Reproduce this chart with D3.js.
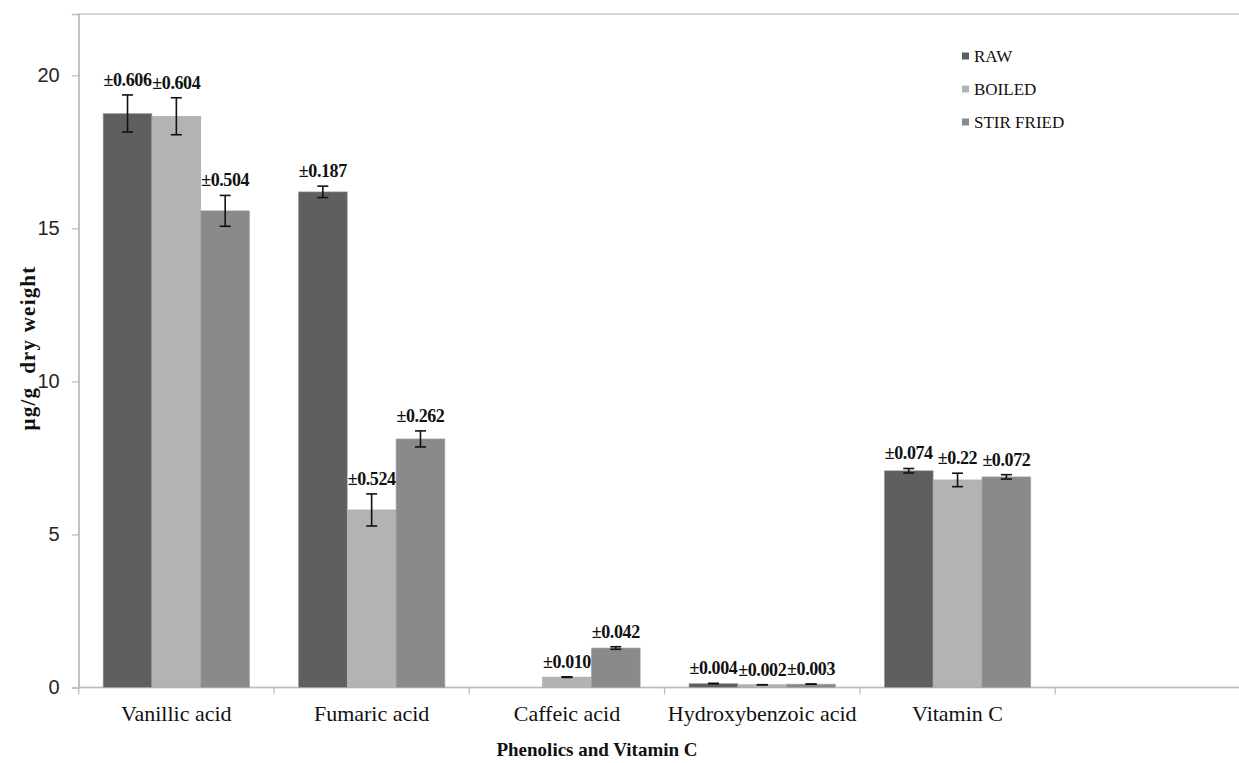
<!DOCTYPE html>
<html>
<head>
<meta charset="utf-8">
<script src="https://cdn.jsdelivr.net/npm/d3@7"></script>
<style>
  body { margin: 0; background: #ffffff; }
  svg { display: block; }
</style>
</head>
<body>
<svg id="chart" width="1239" height="763"></svg>
<script>
// Phenolic acids and vitamin C content (µg/g dry weight) by cooking method
const categories = ["Vanillic acid", "Fumaric acid", "Caffeic acid", "Hydroxybenzoic acid", "Vitamin C"];
const seriesNames = ["RAW", "BOILED", "STIR FRIED"];
const rawValues = [18.75, 16.19, 0, 0.13, 7.08];
const boiledValues = [18.66, 5.80, 0.34, 0.09, 6.78];
const stirFriedValues = [15.57, 8.12, 1.29, 0.11, 6.88];
// standard deviations, as printed above each bar
const rawSD = ["0.606", "0.187", null, "0.004", "0.074"];
const boiledSD = ["0.604", "0.524", "0.010", "0.002", "0.22"];
const stirFriedSD = ["0.504", "0.262", "0.042", "0.003", "0.072"];
const yTicks = [0, 5, 10, 15, 20];

const seriesValues = [rawValues, boiledValues, stirFriedValues];
const seriesSD = [rawSD, boiledSD, stirFriedSD];
const colors = ["#5f5f5f", "#b3b3b3", "#8a8a8a"];

const serif = "'Liberation Serif', 'Times New Roman', Times, serif";

const svg = d3.select("#chart");
const plotLeft = 78.7, plotTop = 14, plotBottom = 687.5;
const step = 195.3;
const plotRight = plotLeft + 6 * step;   // plot area runs one empty slot past the last group

const x = d3.scaleBand().domain(categories).range([plotLeft, plotLeft + categories.length * step]).padding(0);
const xs = d3.scaleBand().domain(seriesNames).range([step / 8, step * 7 / 8]).padding(0);
const y = d3.scaleLinear().domain([0, 22]).range([plotBottom, plotTop]);
const color = d3.scaleOrdinal().domain(seriesNames).range(colors);

const axisColor = "#bdbdbd";

// plot area border
svg.append("rect")
  .attr("x", plotLeft).attr("y", plotTop)
  .attr("width", plotRight - plotLeft).attr("height", plotBottom - plotTop)
  .attr("fill", "none").attr("stroke", axisColor).attr("stroke-width", 1.3);

// y axis
const yAxis = svg.append("g")
  .attr("transform", `translate(${plotLeft},0)`)
  .call(d3.axisLeft(y).tickValues(yTicks).tickSize(7).tickPadding(12).tickFormat(d3.format("d")));
yAxis.select(".domain").attr("stroke", axisColor).attr("stroke-width", 1.3);
yAxis.selectAll(".tick line").attr("stroke", axisColor).attr("stroke-width", 1.3);
yAxis.selectAll(".tick text")
  .attr("font-family", "'Liberation Sans', Arial, sans-serif")
  .attr("font-size", 20).attr("fill", "#262626");

// x axis: tick marks between categories, labels centred under groups
const boundaries = d3.range(categories.length + 2).map(i => plotLeft + i * step);
svg.append("line")
  .attr("x1", plotLeft).attr("x2", plotRight).attr("y1", plotBottom).attr("y2", plotBottom)
  .attr("stroke", axisColor).attr("stroke-width", 1.3);
svg.append("g").selectAll("line").data(boundaries).join("line")
  .attr("x1", d => d).attr("x2", d => d)
  .attr("y1", plotBottom).attr("y2", plotBottom + 7)
  .attr("stroke", axisColor).attr("stroke-width", 1.3);
svg.append("g").selectAll("text").data(categories).join("text")
  .attr("x", d => x(d) + x.bandwidth() / 2)
  .attr("y", 721)
  .attr("text-anchor", "middle")
  .style("font-family", serif)
  .attr("font-size", 22).attr("fill", "#111")
  .text(d => d);

// bars, error bars and SD labels
const records = [];
seriesNames.forEach((s, si) => {
  categories.forEach((c, ci) => {
    records.push({ series: s, category: c, value: seriesValues[si][ci], sd: seriesSD[si][ci] });
  });
});

const groups = svg.append("g");
const shown = records.filter(d => d.value > 0);

groups.selectAll("rect").data(shown).join("rect")
  .attr("x", d => x(d.category) + xs(d.series))
  .attr("y", d => y(d.value))
  .attr("width", xs.bandwidth())
  .attr("height", d => y(0) - y(d.value))
  .attr("fill", d => color(d.series))
  .attr("stroke", "#a8a8a8").attr("stroke-width", 0.6);

const withSD = shown.filter(d => d.sd !== null);
const cx = d => x(d.category) + xs(d.series) + xs.bandwidth() / 2;
const capHalf = 5.5;

const eb = groups.selectAll("g.err").data(withSD).join("g").attr("class", "err")
  .attr("stroke", "#111").attr("stroke-width", 1.6);
eb.append("line")
  .attr("x1", cx).attr("x2", cx)
  .attr("y1", d => y(d.value - +d.sd)).attr("y2", d => y(d.value + +d.sd));
eb.append("line")
  .attr("x1", d => cx(d) - capHalf).attr("x2", d => cx(d) + capHalf)
  .attr("y1", d => y(d.value + +d.sd)).attr("y2", d => y(d.value + +d.sd));
eb.append("line")
  .attr("x1", d => cx(d) - capHalf).attr("x2", d => cx(d) + capHalf)
  .attr("y1", d => y(d.value - +d.sd)).attr("y2", d => y(d.value - +d.sd));

groups.selectAll("text.sd").data(withSD).join("text").attr("class", "sd")
  .attr("x", cx)
  .attr("y", d => y(d.value + +d.sd) - 9)
  .attr("text-anchor", "middle")
  .style("font-family", serif)
  .attr("font-weight", "bold").attr("font-size", 18).attr("fill", "#111")
  .attr("letter-spacing", -0.4)
  .text(d => "±" + d.sd);

// legend
const legend = svg.append("g").selectAll("g").data(seriesNames).join("g")
  .attr("transform", (d, i) => `translate(962,${56 + i * 33})`);
legend.append("rect")
  .attr("x", 0).attr("y", -3.5).attr("width", 7).attr("height", 7)
  .attr("fill", d => color(d));
legend.append("text")
  .attr("x", 12).attr("y", 6)
  .style("font-family", serif)
  .attr("font-size", 17).attr("fill", "#111")
  .text(d => d);

// axis titles
svg.append("text")
  .attr("x", 597).attr("y", 756)
  .attr("text-anchor", "middle")
  .style("font-family", serif)
  .attr("font-weight", "bold").attr("font-size", 19).attr("fill", "#111")
  .text("Phenolics and Vitamin C");

svg.append("text")
  .attr("transform", "translate(35,348) rotate(-90)")
  .attr("text-anchor", "middle")
  .style("font-family", serif)
  .attr("font-weight", "bold").attr("font-size", 21).attr("fill", "#111")
  .attr("letter-spacing", 1.2)
  .style("white-space", "pre")
  .text("µg/g  dry weight");
</script>
</body>
</html>
